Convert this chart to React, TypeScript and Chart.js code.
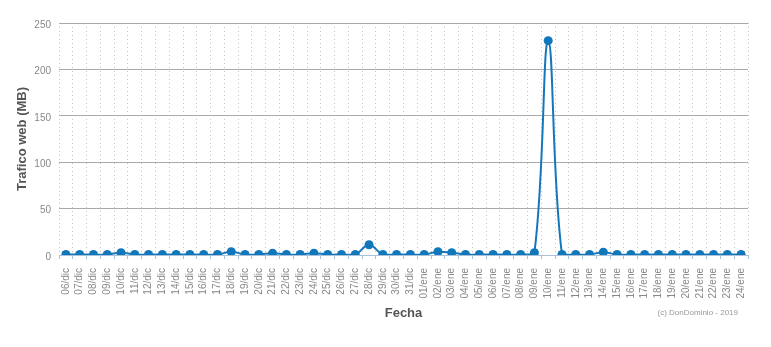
import React, { useEffect, useRef } from "react";
import { Chart, registerables } from "chart.js";

Chart.register(...registerables);

const categories: string[] = [
  "06/dic", "07/dic", "08/dic", "09/dic", "10/dic", "11/dic", "12/dic", "13/dic", "14/dic", "15/dic",
  "16/dic", "17/dic", "18/dic", "19/dic", "20/dic", "21/dic", "22/dic", "23/dic", "24/dic", "25/dic",
  "26/dic", "27/dic", "28/dic", "29/dic", "30/dic", "31/dic",
  "01/ene", "02/ene", "03/ene", "04/ene", "05/ene", "06/ene", "07/ene", "08/ene", "09/ene", "10/ene",
  "11/ene", "12/ene", "13/ene", "14/ene", "15/ene", "16/ene", "17/ene", "18/ene", "19/ene", "20/ene",
  "21/ene", "22/ene", "23/ene", "24/ene",
];

const traficoMB: number[] = [
  0.5, 0.5, 0.5, 0.5, 2.5, 0.5, 0.5, 0.5, 0.5, 0.5,
  0.5, 0.5, 3.5, 0.5, 0.5, 2, 0.5, 0.5, 2, 0.5,
  0.5, 0.5, 11, 0.5, 0.5, 0.5,
  0.5, 3.5, 2.5, 0.5, 0.5, 0.5, 0.5, 0.5, 2.5, 231,
  0.5, 0.5, 0.5, 3, 0.5, 0.5, 0.5, 0.5, 0.5, 0.5,
  0.5, 0.5, 0.5, 0.5,
];

const yTitle = "Trafico web (MB)";
const xTitle = "Fecha";
const credit = "(c) DonDominio - 2019";

export default function App() {
  const ref = useRef<HTMLCanvasElement | null>(null);

  useEffect(() => {
    if (!ref.current) return;
    const chart = new Chart(ref.current, {
      type: "line",
      data: {
        labels: categories,
        datasets: [
          {
            data: traficoMB,
            borderColor: "#1577bb",
            backgroundColor: "#1177bb",
            pointBackgroundColor: "#1177bb",
            pointBorderColor: "#1177bb",
            pointRadius: 4.5,
            pointBorderWidth: 0,
            borderWidth: 2,
            tension: 0.4,
            fill: false,
          },
        ],
      },
      options: {
        animation: false,
        responsive: true,
        maintainAspectRatio: false,
        layout: { padding: { top: 15, right: 15, left: 0, bottom: 0 } },
        plugins: { legend: { display: false }, tooltip: { enabled: false } },
        scales: {
          x: {
            offset: true,
            grid: {
              offset: true,
              color: "#c4c4c4",
              tickColor: "#a9c1d9",
              tickLength: 4,
              drawTicks: true,
            },
            border: { display: true, color: "#a9c1d9", width: 1, dash: [1, 3] },
            ticks: {
              color: "#888",
              font: { family: "'Liberation Sans', Arial, sans-serif", size: 10 },
              minRotation: 90,
              maxRotation: 90,
              autoSkip: false,
              padding: 9,
            },
            title: {
              display: true,
              text: xTitle,
              color: "#555",
              font: { family: "'Liberation Sans', Arial, sans-serif", size: 13, weight: "bold" },
              padding: { top: 4, bottom: 18 },
            },
            afterFit: (s: any) => {
              s.height = 84;
            },
          },
          y: {
            min: 0,
            max: 250,
            ticks: {
              stepSize: 50,
              color: "#888",
              padding: 8,
              labelOffset: 2,
              font: { family: "'Liberation Sans', Arial, sans-serif", size: 10 },
            },
            grid: { color: "#aaa", drawTicks: false },
            border: { display: false },
            title: {
              display: true,
              text: yTitle,
              color: "#555",
              font: { family: "'Liberation Sans', Arial, sans-serif", size: 13, weight: "bold" },
              padding: { top: 7, bottom: 4 },
            },
            afterFit: (s: any) => {
              s.width = 51;
            },
          },
        },
      },
    });
    return () => chart.destroy();
  }, []);

  return (
    <div style={{ position: "relative", height: 331 }}>
      <canvas ref={ref} />
      <div
        style={{
          position: "absolute",
          right: 25,
          top: 300,
          fontFamily: "'Liberation Sans', Arial, sans-serif",
          fontSize: 8,
          color: "#999",
          whiteSpace: "nowrap",
        }}
      >
        {credit}
      </div>
    </div>
  );
}
